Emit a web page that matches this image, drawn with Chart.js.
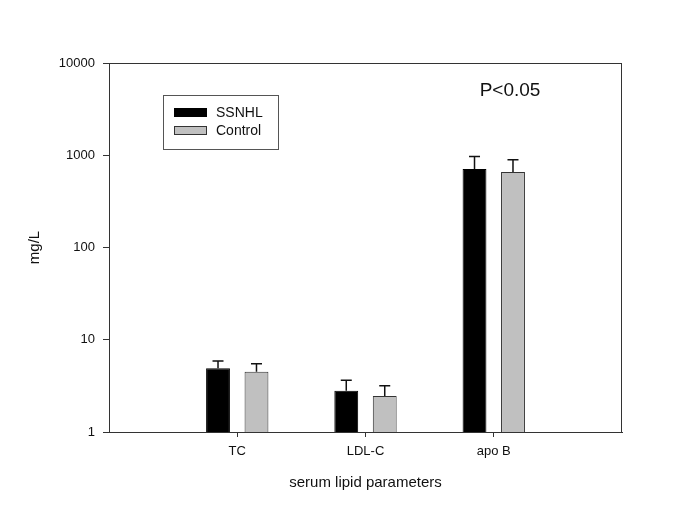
<!DOCTYPE html>
<html>
<head>
<meta charset="utf-8">
<script src="https://cdn.jsdelivr.net/npm/chart.js@4"></script>
<style>
  html, body { margin: 0; padding: 0; background: #fff; }
  #wrap { width: 685px; height: 523px; }
</style>
</head>
<body>
<div id="wrap"><canvas id="chart"></canvas></div>
<script>
// data
const categories = ["TC", "LDL-C", "apo B"];
const ssnhl = [4.9, 2.8, 710];
const ssnhlSD = [1.0, 0.85, 260];
const control = [4.5, 2.45, 660];
const controlSD = [1.0, 0.72, 235];
const yTicks = [1, 10, 100, 1000, 10000];
const note = "P<0.05";

// empty slots at both ends so the x axis runs from 0 to 4
const labels = ["", ...categories, ""];
const pad = arr => [null, ...arr, null];

const FONT = "'Liberation Sans', Arial, sans-serif";
const AXIS = "#333333";

/* ===== error bars (up only) ===== */
const errorBars = {
  id: "errorBars",
  afterDatasetsDraw(chart) {
    const { ctx } = chart;
    const y = chart.scales.y;
    chart.data.datasets.forEach((ds, i) => {
      const meta = chart.getDatasetMeta(i);
      meta.data.forEach((bar, j) => {
        const v = ds.data[j];
        const sd = ds.sd[j];
        if (v == null || sd == null) return;
        const top = y.getPixelForValue(v + sd);
        const base = y.getPixelForValue(v);
        ctx.save();
        ctx.strokeStyle = "#111";
        ctx.lineWidth = 1.5;
        ctx.beginPath();
        ctx.moveTo(bar.x, base);
        ctx.lineTo(bar.x, top);
        ctx.moveTo(bar.x - 5.5, top);
        ctx.lineTo(bar.x + 5.5, top);
        ctx.stroke();
        ctx.restore();
      });
    });
  }
};

/* ===== frame, legend box, note ===== */
const extras = {
  id: "extras",
  afterDraw(chart) {
    const { ctx, chartArea: a } = chart;
    ctx.save();
    ctx.strokeStyle = AXIS;
    ctx.lineWidth = 1;
    ctx.strokeRect(a.left + 0.5, a.top + 0.5, a.right - a.left - 1, a.bottom - a.top);

    // legend
    const lx = a.left + 54, ly = a.top + 32;
    ctx.strokeStyle = "#555";
    ctx.strokeRect(lx + 0.5, ly + 0.5, 115, 54);
    ctx.font = "14px " + FONT;
    ctx.textBaseline = "middle";
    chart.data.datasets.forEach((ds, i) => {
      const sy = ly + 13 + i * 18;
      ctx.fillStyle = ds.backgroundColor;
      ctx.fillRect(lx + 11, sy, 33, 9);
      ctx.strokeStyle = ds.borderColor;
      ctx.strokeRect(lx + 11.5, sy + 0.5, 32, 8);
      ctx.fillStyle = "#111";
      ctx.fillText(ds.label, lx + 53, sy + 5);
    });

    // significance note
    ctx.font = "19px " + FONT;
    ctx.textAlign = "center";
    ctx.fillStyle = "#111";
    ctx.fillText(note, 510, 91);
    ctx.restore();
  }
};

new Chart(document.getElementById("chart"), {
  type: "bar",
  data: {
    labels: labels,
    datasets: [
      {
        label: "SSNHL",
        data: pad(ssnhl),
        sd: pad(ssnhlSD),
        backgroundColor: "#000000",
        borderColor: "#000000",
        borderWidth: 1
      },
      {
        label: "Control",
        data: pad(control),
        sd: pad(controlSD),
        backgroundColor: "#c0c0c0",
        borderColor: "#333333",
        borderWidth: 1
      }
    ]
  },
  options: {
    responsive: true,
    maintainAspectRatio: false,
    animation: false,
    datasets: {
      bar: { categoryPercentage: 0.6, barPercentage: 0.62 }
    },
    layout: { padding: { top: 63, right: 63, left: 0, bottom: 0 } },
    plugins: {
      legend: { display: false },
      tooltip: { enabled: false }
    },
    scales: {
      x: {
        offset: false,
        afterFit: axis => { axis.height = 91; },
        border: { display: true, color: AXIS, width: 1 },
        grid: {
          offset: false,
          drawOnChartArea: false,
          tickLength: 5,
          tickColor: ctx => (ctx.index === 0 || ctx.index === labels.length - 1) ? "rgba(0,0,0,0)" : AXIS
        },
        ticks: {
          color: "#111",
          padding: 7,
          maxRotation: 0,
          autoSkip: false,
          font: { family: FONT, size: 13 }
        },
        title: {
          display: true,
          text: "serum lipid parameters",
          color: "#111",
          font: { family: FONT, size: 15 },
          padding: { top: 0, bottom: 31 }
        }
      },
      y: {
        type: "logarithmic",
        min: 1,
        max: 10000,
        afterFit: axis => { axis.width = 109; },
        afterBuildTicks: axis => { axis.ticks = yTicks.map(v => ({ value: v })); },
        border: { display: true, color: AXIS, width: 1 },
        grid: { drawOnChartArea: false, tickLength: 6, tickColor: AXIS },
        ticks: {
          color: "#111",
          padding: 8,
          font: { family: FONT, size: 13 },
          callback: v => String(v)
        },
        title: {
          display: true,
          text: "mg/L",
          color: "#111",
          font: { family: FONT, size: 15 },
          padding: { top: 26, bottom: 0 }
        }
      }
    }
  },
  plugins: [errorBars, extras]
});
</script>
</body>
</html>
